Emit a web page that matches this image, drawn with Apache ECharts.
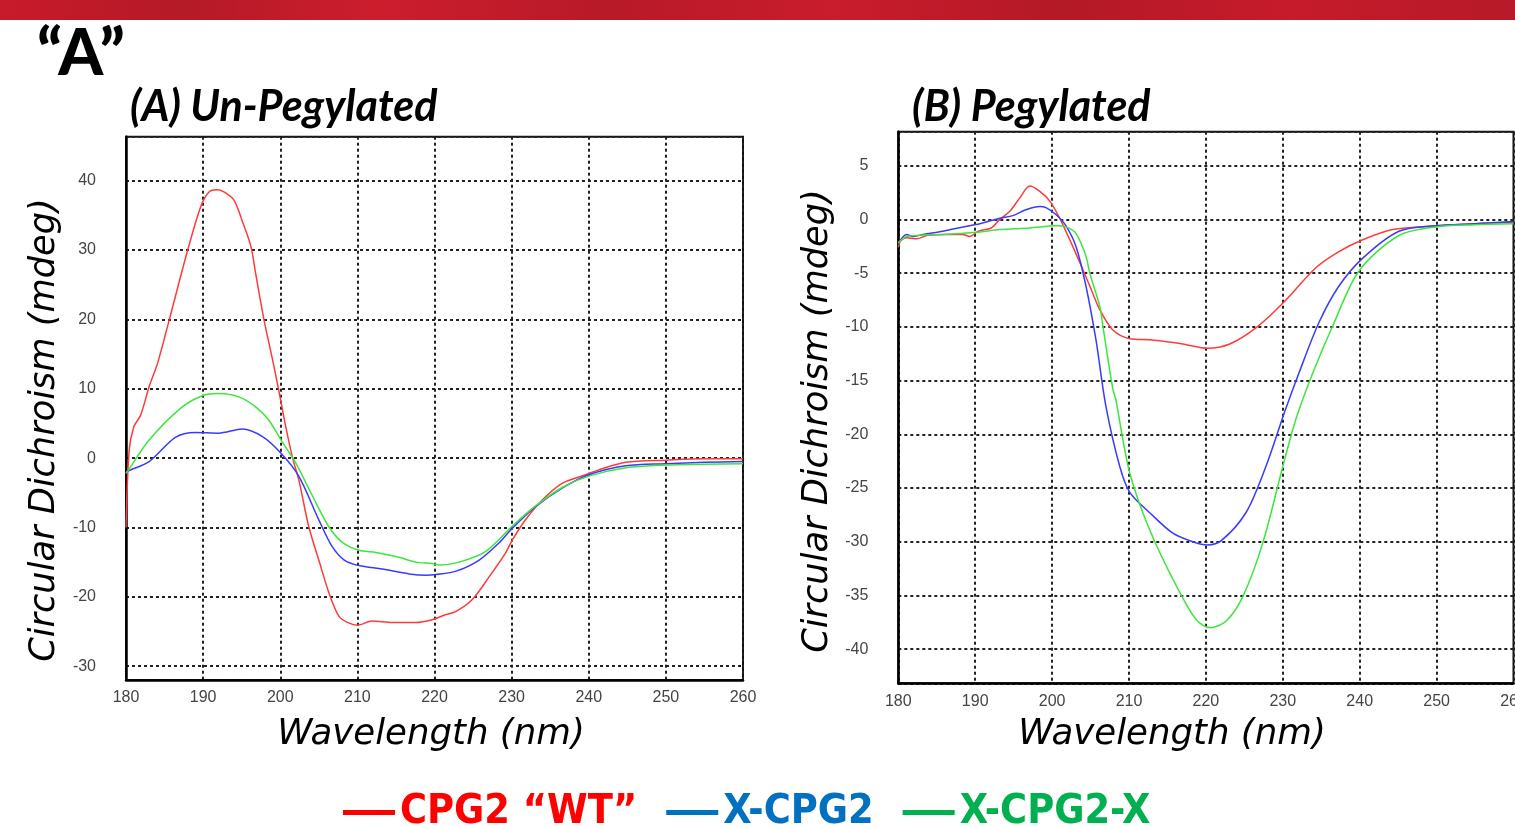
<!DOCTYPE html>
<html>
<head>
<meta charset="utf-8">
<title>CD spectra: un-pegylated vs pegylated CPG2</title>
<script src="https://cdn.jsdelivr.net/npm/echarts@6/dist/echarts.min.js"></script>
<style>
  html, body { margin: 0; padding: 0; background: #ffffff; }
  #chart { width: 1515px; height: 827px; }
</style>
</head>
<body>
<div id="chart"></div>
<script>
// Series names (legend order)
const seriesNames = ['CPG2 \u201cWT\u201d', 'X-CPG2', 'X-CPG2-X'];

// Wavelength axis ticks (nm)
const wavelengthTicks = [180, 190, 200, 210, 220, 230, 240, 250, 260];

// Panel (A) Un-Pegylated: [wavelength nm, CD mdeg]
const wtUnpeg = [
  [180, -10], [180.4, 1], [181, 4.5], [181.9, 6.2], [183, 10.3], [184.1, 13.7], [185.6, 19.9],
  [188, 30], [189.7, 36.3], [190.8, 38.4], [191.8, 38.7], [192.7, 38.4], [194, 37.2],
  [195.1, 34.1], [196.2, 30.5], [196.8, 26.7], [197.9, 19.9], [199, 14.2], [199.8, 9.8],
  [200.7, 4.6], [201.6, 0], [202.4, -3.1], [203.7, -9.9], [205, -14.7], [206.3, -19.4],
  [207.6, -22.8], [208.7, -23.7], [210, -24.1], [211.9, -23.5], [214.5, -23.7], [217.6, -23.7],
  [219.7, -23.3], [221.4, -22.6], [222.8, -22.1], [224.9, -20.4], [227.1, -17.1], [229.2, -13.7],
  [230.1, -11.8], [231.8, -8.9], [234, -6], [236.6, -3.6], [239.6, -2.4], [241.3, -1.7],
  [244.8, -0.6], [250, -0.3], [255, -0.1], [260, -0.1]
];
const xCpg2Unpeg = [
  [180, -2.2], [180.2, -1.9], [183, -0.5], [186.4, 3.0], [189, 3.7], [192, 3.6], [195.1, 4.2],
  [197.7, 3.1], [200.1, 0.7], [202.4, -2.6], [205, -8.9], [206.7, -12.7], [208.3, -14.7],
  [210.2, -15.5], [213.2, -16], [216.7, -16.7], [218.9, -16.9], [220.2, -16.8], [222.8, -16.3],
  [225.8, -14.7], [228.4, -12.2], [230.1, -10.1], [233.1, -7.0], [236.6, -4.3], [240, -2.4],
  [244.8, -1.1], [250, -0.8], [255, -0.6], [260, -0.5]
];
const xCpg2xUnpeg = [
  [180, -2.2], [180.2, -1.9], [183, 2.6], [187.1, 7.2], [189.9, 9.0], [192, 9.3], [194.7, 8.8],
  [196.8, 7.4], [198.5, 5.5], [200.1, 2.6], [202, -0.7], [204.2, -5.5], [206.3, -9.9],
  [208.1, -12.2], [210.2, -13.3], [212.4, -13.6], [215.4, -14.3], [217.6, -15], [219.7, -15.2],
  [220.6, -15.4], [223.2, -15], [226.6, -13.5], [230.1, -9.8], [233.1, -6.9], [236.6, -4.2],
  [240, -2.6], [244.8, -1.4], [250, -1.0], [255, -0.9], [260, -0.8]
];

// Panel (B) Pegylated: [wavelength nm, CD mdeg]
const wtPeg = [
  [180, -2.6], [180.3, -2.0], [181.1, -1.7], [182.4, -1.8], [183.7, -1.5], [186.3, -1.4],
  [188.4, -1.4], [189.3, -1.6], [190.4, -1.1], [192.1, -0.8], [193.2, 0], [194.5, 0.75],
  [195.8, 2.0], [197.1, 3.1], [198.4, 2.6], [199.7, 1.7], [201, 0.1], [202.3, -1.9],
  [203.6, -4.0], [204.9, -6.2], [206.2, -8.4], [207.9, -10.3], [210.1, -11.1], [212.7, -11.2],
  [214, -11.3], [217, -11.6], [220.2, -12.0], [223.1, -11.6], [226.5, -10.1], [230, -7.8],
  [234.3, -4.5], [237.3, -3.0], [240.4, -1.9], [244.3, -0.95], [249.9, -0.6], [255, -0.4],
  [260, -0.3]
];
const xCpg2Peg = [
  [180, -2.2], [181.1, -1.4], [181.9, -1.6], [183.2, -1.4], [185.8, -1.1], [188.4, -0.7],
  [190.6, -0.4], [193.2, 0.1], [194.9, 0.35], [196.6, 0.9], [198.4, 1.2], [199.2, 1.1],
  [200.5, 0.45], [201.8, -0.6], [203.1, -2.5], [204.4, -6.2], [205.7, -11.2], [207, -17.4],
  [208.8, -23], [210.1, -25.4], [212.7, -27.3], [215.7, -29.2], [218.3, -30.0], [220.2, -30.3],
  [222, -29.9], [225.2, -27.3], [227.8, -23.0], [230.2, -18.0], [232.1, -14.3], [234.7, -9.6],
  [237.3, -6.2], [240.4, -3.6], [245.1, -1.1], [249.9, -0.6], [255, -0.4], [260, -0.2]
];
const xCpg2xPeg = [
  [180, -2.2], [181.1, -1.6], [185.8, -1.4], [190.2, -1.2], [193.2, -0.95], [197.1, -0.8],
  [200.5, -0.6], [201.8, -0.7], [203.1, -1.3], [204.4, -3.4], [204.9, -5.0], [206.2, -8.1],
  [206.6, -9.9], [207.9, -15.8], [208.3, -16.8], [209.2, -20.5], [210.1, -23.6], [211.8, -27.3],
  [214, -31.0], [216.6, -34.7], [218.7, -37.2], [220.5, -38.0], [222.6, -37.4], [224.8, -35.1],
  [227.4, -30.1], [230, -23], [231.7, -18.6], [233.9, -14.3], [236.5, -9.9], [239.9, -4.8],
  [245.1, -1.5], [249.9, -0.7], [255, -0.5], [260, -0.4]
];

// Visible y ranges of the two plot frames (mdeg)
const yRangeUnpeg = [-32, 46.35];
const yRangePeg = [-43.17, 8.16];

const lineColors = ['#ff3a3a', '#3a3aff', '#3ce63c'];
const legendColors = ['#ff0000', '#0070c0', '#00b050'];

const tickFont = { color: '#444', fontSize: 16, fontFamily: 'Liberation Sans, Arial, sans-serif' };
const gridLine = { show: true, lineStyle: { color: '#222', width: 2, type: [3, 3] } };
const axisLineStyle = { show: true, onZero: false, lineStyle: { color: '#000', width: 2.5 } };

function xAxisFor(gridIndex) {
  return {
    type: 'value', gridIndex,
    min: wavelengthTicks[0], max: wavelengthTicks[wavelengthTicks.length - 1], interval: 10,
    axisLine: axisLineStyle,
    axisTick: { show: false },
    axisLabel: Object.assign({ margin: 10 }, tickFont),
    splitLine: gridLine
  };
}
function yAxisFor(gridIndex, range, splitNumber) {
  return {
    type: 'value', gridIndex,
    min: range[0], max: range[1], splitNumber,
    axisLine: axisLineStyle,
    axisTick: { show: false },
    axisLabel: Object.assign({ margin: 30, showMinLabel: false, showMaxLabel: false }, tickFont),
    splitLine: gridLine
  };
}
function lineSeries(name, data, i, panel) {
  return {
    name, type: 'line', data,
    xAxisIndex: panel, yAxisIndex: panel,
    showSymbol: false, smooth: 0.3,
    lineStyle: { color: lineColors[i], width: 1.5 },
    itemStyle: { color: lineColors[i] },
    emphasis: { disabled: true }
  };
}

const yTitleFont = 'italic 35.2px "DejaVu Sans", Verdana, sans-serif';
const xTitleFont = 'italic 35.6px "DejaVu Sans", Verdana, sans-serif';
const panelTitleFont = 'italic bold 43px Lato, "Open Sans", sans-serif';

const chart = echarts.init(document.getElementById('chart'), null, { renderer: 'canvas' });
chart.setOption({
  animation: false,
  backgroundColor: '#ffffff',
  grid: [
    { left: 126, top: 136.7, width: 617, height: 543.3, show: true, borderColor: '#111', borderWidth: 2,
      backgroundColor: 'transparent', containLabel: false, outerBoundsMode: 'none' },
    { left: 898.3, top: 131.7, width: 615.2, height: 551.6, show: true, borderColor: '#111', borderWidth: 2,
      backgroundColor: 'transparent', containLabel: false, outerBoundsMode: 'none' }
  ],
  xAxis: [xAxisFor(0), xAxisFor(1)],
  yAxis: [yAxisFor(0, yRangeUnpeg, 8), yAxisFor(1, yRangePeg, 10)],
  legend: {
    left: 338, top: 787,
    itemWidth: 52, itemHeight: 5, itemGap: 29,
    icon: 'rect',
    selectedMode: false,
    textStyle: { fontSize: 41, fontWeight: 'bold', fontFamily: '"DejaVu Sans Condensed", Roboto, sans-serif' },
    data: seriesNames.map((n, i) => ({
      name: n,
      itemStyle: { color: legendColors[i] },
      textStyle: { color: legendColors[i] }
    }))
  },
  series: [
    lineSeries(seriesNames[0], wtUnpeg, 0, 0),
    lineSeries(seriesNames[1], xCpg2Unpeg, 1, 0),
    lineSeries(seriesNames[2], xCpg2xUnpeg, 2, 0),
    lineSeries(seriesNames[0], wtPeg, 0, 1),
    lineSeries(seriesNames[1], xCpg2Peg, 1, 1),
    lineSeries(seriesNames[2], xCpg2xPeg, 2, 1)
  ],
  graphic: [
    // red header band
    {
      type: 'rect', left: 0, top: 0, silent: true,
      shape: { width: 1515, height: 20 },
      style: {
        fill: new echarts.graphic.LinearGradient(0, 0, 1, 0, [
          { offset: 0, color: '#c81a2a' }, { offset: 0.12, color: '#b51a27' },
          { offset: 0.25, color: '#cc1d2d' }, { offset: 0.4, color: '#b81a28' },
          { offset: 0.55, color: '#c91c2c' }, { offset: 0.7, color: '#b41926' },
          { offset: 0.85, color: '#c61b2b' }, { offset: 1, color: '#b71a28' }
        ])
      }
    },
    // figure label
    {
      type: 'text', left: 37, top: 22, silent: true,
      style: {
        text: '\u201cA\u201d', font: '900 64px Lato, "Open Sans", sans-serif', fill: '#000',
        shadowColor: 'rgba(0,0,0,0.45)', shadowBlur: 3, shadowOffsetX: 2, shadowOffsetY: 2
      }
    },
    // panel titles
    { type: 'text', left: 130, top: 86, silent: true, style: { text: '(A) Un-Pegylated', font: panelTitleFont, fill: '#000' } },
    { type: 'text', left: 912, top: 86, silent: true, style: { text: '(B) Pegylated', font: panelTitleFont, fill: '#000' } },
    // axis titles
    { type: 'text', x: 45, y: 430, rotation: Math.PI / 2, silent: true,
      style: { text: 'Circular Dichroism (mdeg)', font: yTitleFont, fill: '#000', align: 'center', verticalAlign: 'middle' } },
    { type: 'text', x: 818, y: 421, rotation: Math.PI / 2, silent: true,
      style: { text: 'Circular Dichroism (mdeg)', font: yTitleFont, fill: '#000', align: 'center', verticalAlign: 'middle' } },
    { type: 'text', x: 431, y: 735, silent: true,
      style: { text: 'Wavelength (nm)', font: xTitleFont, fill: '#000', align: 'center', verticalAlign: 'middle' } },
    { type: 'text', x: 1172, y: 735, silent: true,
      style: { text: 'Wavelength (nm)', font: xTitleFont, fill: '#000', align: 'center', verticalAlign: 'middle' } }
  ]
});
</script>
</body>
</html>
